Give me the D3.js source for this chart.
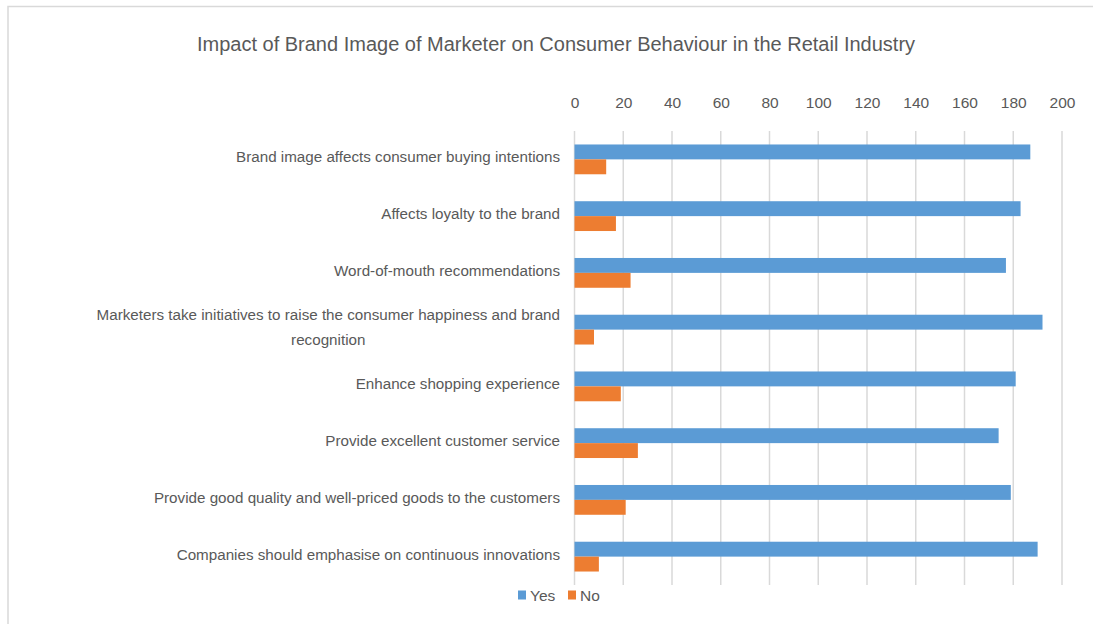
<!DOCTYPE html>
<html>
<head>
<meta charset="utf-8">
<script src="https://cdn.jsdelivr.net/npm/d3@7"></script>
<style>
  body { margin: 0; background: #fff; }
  svg { display: block; }
  text { font-family: "Liberation Sans", Arial, sans-serif; fill: #595959; }
</style>
</head>
<body>
<svg id="chart" width="1093" height="624"></svg>
<script>
// categories top to bottom
const categories = [
  "Brand image affects consumer buying intentions",
  "Affects loyalty to the brand",
  "Word-of-mouth recommendations",
  "Marketers take initiatives to raise the consumer happiness and brand recognition",
  "Enhance shopping experience",
  "Provide excellent customer service",
  "Provide good quality and well-priced goods to the customers",
  "Companies should emphasise on continuous innovations"
];
const yesValues = [187, 183, 177, 192, 181, 174, 179, 190];
const noValues  = [13, 17, 23, 8, 19, 26, 21, 10];
const seriesNames = ["Yes", "No"];
const seriesColors = ["#5b9bd5", "#ed7d31"];
const xTicks = [0, 20, 40, 60, 80, 100, 120, 140, 160, 180, 200];
const title = "Impact of Brand Image of Marketer on Consumer Behaviour in the Retail Industry";

const svg = d3.select("#chart");
const width = 1093, height = 624;
const margin = {top: 131, right: 31, bottom: 39, left: 574.5};

// chart frame (runs off the right and bottom of the picture)
svg.append("rect")
  .attr("x", 8).attr("y", 6.5)
  .attr("width", width).attr("height", height)
  .attr("fill", "none")
  .attr("stroke", "#d9d9d9")
  .attr("stroke-width", 1.5);

svg.append("text")
  .attr("x", 556).attr("y", 44)
  .attr("text-anchor", "middle")
  .attr("dominant-baseline", "central")
  .style("font-size", "20px")
  .text(title);

const x = d3.scaleLinear().domain([0, 200]).range([margin.left, width - margin.right]);
const y = d3.scaleBand().domain(categories)
  .range([margin.top, height - margin.bottom])
  .paddingInner(0.475).paddingOuter(0.2375);
const ySub = d3.scaleBand().domain(seriesNames).range([0, y.bandwidth()]);

// gridlines
svg.append("g").selectAll("line")
  .data(xTicks)
  .join("line")
  .attr("x1", d => x(d)).attr("x2", d => x(d))
  .attr("y1", margin.top).attr("y2", height - margin.bottom)
  .attr("stroke", "#d9d9d9")
  .attr("stroke-width", 1.5);

// top axis labels
const xAxis = d3.axisTop(x).tickValues(xTicks).tickSize(0).tickPadding(23);
const gx = svg.append("g").attr("transform", `translate(0,${margin.top})`).call(xAxis);
gx.select(".domain").remove();
gx.selectAll("text").style("font-size", "15.5px").attr("fill", "#595959").style("font-family", null);

// bars
const rows = categories.map((c, i) => ({cat: c, vals: [yesValues[i], noValues[i]]}));
const rowG = svg.append("g").selectAll("g")
  .data(rows)
  .join("g")
  .attr("transform", d => `translate(0,${y(d.cat)})`);
rowG.selectAll("rect")
  .data(d => d.vals.map((v, j) => ({name: seriesNames[j], v: v, color: seriesColors[j]})))
  .join("rect")
  .attr("x", x(0))
  .attr("y", d => ySub(d.name))
  .attr("width", d => x(d.v) - x(0))
  .attr("height", ySub.bandwidth())
  .attr("fill", d => d.color);

// category labels, wrapped when too long
const labelRight = 560;
const maxLabelW = 470;
const labels = svg.append("g").selectAll("text")
  .data(categories)
  .join("text")
  .style("font-size", "15.2px")
  .attr("text-anchor", "end")
  .attr("x", labelRight);

labels.each(function(d) {
  const t = d3.select(this);
  const words = d.split(" ");
  let lines = [], line = [];
  let tspan = t.append("tspan").attr("x", labelRight);
  words.forEach(w => {
    line.push(w);
    tspan.text(line.join(" "));
    if (tspan.node().getComputedTextLength() > maxLabelW && line.length > 1) {
      line.pop();
      lines.push(line.join(" "));
      line = [w];
    }
  });
  lines.push(line.join(" "));
  tspan.remove();
  const lh = 25;
  const cy = y(d) + y.bandwidth() / 2 - 2.5;
  const tsp = lines.map((ln, k) => t.append("tspan")
    .attr("x", labelRight)
    .attr("y", cy + (k - (lines.length - 1) / 2) * lh)
    .attr("dominant-baseline", "central")
    .text(ln));
  if (lines.length > 1) {
    const w = d3.max(tsp, s => s.node().getComputedTextLength());
    t.attr("text-anchor", "middle");
    tsp.forEach(s => s.attr("x", labelRight - w / 2));
  }
});

// legend
const legend = svg.append("g").attr("transform", "translate(518,595)");
const li = legend.selectAll("g")
  .data(seriesNames)
  .join("g")
  .attr("transform", (d, i) => `translate(${i * 50},0)`);
li.append("rect")
  .attr("x", 0).attr("y", -4.5)
  .attr("width", 8).attr("height", 9)
  .attr("fill", (d, i) => seriesColors[i]);
li.append("text")
  .attr("x", 12).attr("y", 0)
  .attr("dominant-baseline", "central")
  .style("font-size", "15.5px")
  .text(d => d);
</script>
</body>
</html>
